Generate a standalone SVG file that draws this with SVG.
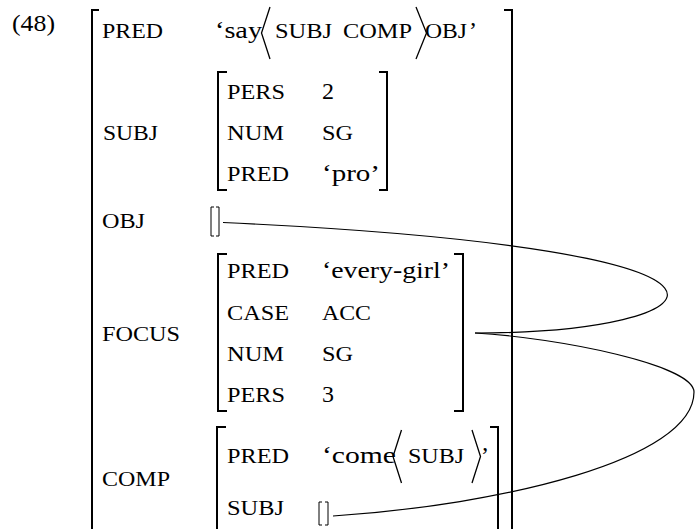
<svg xmlns="http://www.w3.org/2000/svg" width="696" height="529" viewBox="0 0 696 529">
<style>
.br{fill:none;stroke:#000;stroke-width:2}
.ang{fill:none;stroke:#000;stroke-width:1.3}
.emp{fill:none;stroke:#000;stroke-width:1}
.cn{fill:none;stroke:#000;stroke-width:1.2}
</style>
<rect width="696" height="529" fill="#fff"/>
<g font-family="Liberation Serif, Times New Roman, serif" fill="#000">
<g id="ex-num"><text font-size="24" x="12" y="31" textLength="43" lengthAdjust="spacingAndGlyphs">(48)</text></g>
<g id="f-main">
<path class="br" d="M99,10 H92 V532"/>
<path class="br" d="M504,10 H512 V532"/>
<text font-size="20" x="102" y="38" textLength="61" lengthAdjust="spacingAndGlyphs">PRED</text>
<text font-size="24" x="215" y="38" textLength="47" lengthAdjust="spacingAndGlyphs">‘say</text>
<polyline class="ang" points="270,7 261.5,33 270,59"/>
<text font-size="20" x="275" y="38" textLength="57" lengthAdjust="spacingAndGlyphs">SUBJ</text>
<text font-size="20" x="343" y="38" textLength="69" lengthAdjust="spacingAndGlyphs">COMP</text>
<polyline class="ang" points="416,7 426.5,33 416,59"/>
<text font-size="20" x="425" y="38" textLength="42" lengthAdjust="spacingAndGlyphs">OBJ</text>
<text font-size="24" x="469" y="38">’</text>
<text font-size="20" x="103" y="140" textLength="55" lengthAdjust="spacingAndGlyphs">SUBJ</text>
<text font-size="20" x="102" y="228" textLength="43" lengthAdjust="spacingAndGlyphs">OBJ</text>
<text font-size="20" x="102" y="341" textLength="78" lengthAdjust="spacingAndGlyphs">FOCUS</text>
<text font-size="20" x="102" y="486" textLength="68" lengthAdjust="spacingAndGlyphs">COMP</text>
</g>
<g id="f-subj">
<path class="br" d="M227,72 H218 V190 H227"/>
<path class="br" d="M379,72 H387 V190 H379"/>
<text font-size="20" x="227" y="99" textLength="58" lengthAdjust="spacingAndGlyphs">PERS</text>
<text font-size="24" x="322" y="99">2</text>
<text font-size="20" x="227" y="140" textLength="57" lengthAdjust="spacingAndGlyphs">NUM</text>
<text font-size="20" x="322" y="140" textLength="31" lengthAdjust="spacingAndGlyphs">SG</text>
<text font-size="20" x="227" y="181" textLength="62" lengthAdjust="spacingAndGlyphs">PRED</text>
<text font-size="24" x="322" y="181" textLength="58" lengthAdjust="spacingAndGlyphs">‘pro’</text>
</g>
<g id="obj-empty">
<path class="emp" d="M214,207 H211 V236 H214"/>
<path class="emp" d="M216,207 H219 V236 H216"/>
</g>
<g id="f-focus">
<path class="br" d="M227,254 H218 V411 H227"/>
<path class="br" d="M454,254 H463 V411 H454"/>
<text font-size="20" x="227" y="278" textLength="62" lengthAdjust="spacingAndGlyphs">PRED</text>
<text font-size="24" x="322" y="278" textLength="128" lengthAdjust="spacingAndGlyphs">‘every-girl’</text>
<text font-size="20" x="227" y="320" textLength="62" lengthAdjust="spacingAndGlyphs">CASE</text>
<text font-size="20" x="322" y="320" textLength="49" lengthAdjust="spacingAndGlyphs">ACC</text>
<text font-size="20" x="227" y="361" textLength="57" lengthAdjust="spacingAndGlyphs">NUM</text>
<text font-size="20" x="322" y="361" textLength="31" lengthAdjust="spacingAndGlyphs">SG</text>
<text font-size="20" x="227" y="402" textLength="58" lengthAdjust="spacingAndGlyphs">PERS</text>
<text font-size="24" x="322" y="402">3</text>
</g>
<g id="f-comp">
<path class="br" d="M226,427 H217 V532"/>
<path class="br" d="M490,427 H498 V532"/>
<text font-size="20" x="227" y="463" textLength="62" lengthAdjust="spacingAndGlyphs">PRED</text>
<text font-size="24" x="322" y="463" textLength="74" lengthAdjust="spacingAndGlyphs">‘come</text>
<polyline class="ang" points="401.5,430 393,456.5 401.5,483"/>
<text font-size="20" x="408" y="463" textLength="56" lengthAdjust="spacingAndGlyphs">SUBJ</text>
<polyline class="ang" points="472,430 480.5,456.5 472,483"/>
<text font-size="24" x="481" y="463">’</text>
<text font-size="20" x="227" y="515" textLength="57" lengthAdjust="spacingAndGlyphs">SUBJ</text>
</g>
</g>
<g id="comp-subj-empty">
<path class="emp" d="M322,502 H319 V525 H322"/>
<path class="emp" d="M325,502 H328 V525 H325"/>
</g>
<g id="connectors">
<path class="cn" d="M223,222.5 C820,250 720,333 475,333"/>
<path class="cn" d="M475,333 C560,338 694,365 694,392 C694,460 500,505 333,516"/>
</g>
</svg>
